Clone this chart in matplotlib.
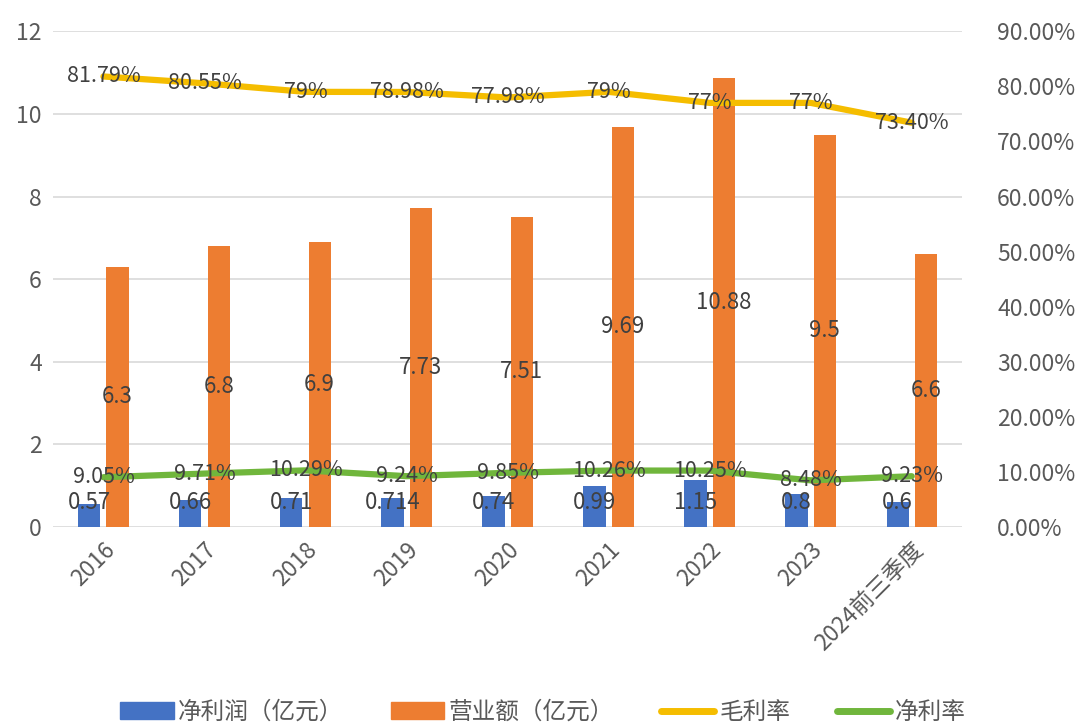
""" Revenue / profit combo chart with margin lines """

import numpy as np
from matplotlib import pyplot as plt
from matplotlib.patches import Patch
from matplotlib.lines import Line2D

plt.rcParams['font.family'] = ['Noto Sans CJK SC', 'DejaVu Sans']

# Data
years = ['2016', '2017', '2018', '2019', '2020', '2021', '2022', '2023', '2024前三季度']
net_profit = [0.57, 0.66, 0.71, 0.714, 0.74, 0.99, 1.15, 0.8, 0.6]
revenue = [6.3, 6.8, 6.9, 7.73, 7.51, 9.69, 10.88, 9.5, 6.6]
gross_margin = [81.79, 80.55, 79, 78.98, 77.98, 79, 77, 77, 73.40]
gross_labels = ['81.79%', '80.55%', '79%', '78.98%', '77.98%', '79%', '77%', '77%', '73.40%']
net_margin = [9.05, 9.71, 10.29, 9.24, 9.85, 10.26, 10.25, 8.48, 9.23]
net_labels = ['9.05%', '9.71%', '10.29%', '9.24%', '9.85%', '10.26%', '10.25%', '8.48%', '9.23%']

# Colours
c_blue = '#4472C4'
c_orange = '#ED7D31'
c_yellow = '#F5BD00'
c_green = '#70B63C'
c_text = '#404040'
c_tick = '#595959'

fig = plt.figure(figsize=(10.8, 7.27), dpi=100)
ax = fig.add_axes([0.049, 0.275, 0.842, 0.682])
ax2 = ax.twinx()

x = np.arange(len(years))
w = 0.22
off = 0.14

ax.bar(x - off, net_profit, w, color=c_blue, zorder=2)
ax.bar(x + off, revenue, w, color=c_orange, zorder=2)

# Bar labels
for xi, v in zip(x, net_profit):
    ax.text(xi - off, max(v / 2, 0.6), f'{v:g}', ha='center', va='center',
            fontsize=16, color=c_text, zorder=5)
for xi, v in zip(x, revenue):
    ax.text(xi + off, v / 2, f'{v:g}', ha='center', va='center',
            fontsize=16, color=c_text, zorder=5)

ax.set_ylim(0, 12)
ax.set_yticks(range(0, 13, 2))
ax.set_xlim(-0.5, len(years) - 0.5)
ax.grid(axis='y', color='#D9D9D9', linewidth=1.2, zorder=0)
ax.set_axisbelow(True)

# Lines on the right axis
ax2.plot(x, gross_margin, color=c_yellow, linewidth=4.5, solid_capstyle='round', zorder=3)
ax2.plot(x, net_margin, color=c_green, linewidth=4.5, solid_capstyle='round', zorder=3)
for xi, v, s in zip(x, gross_margin, gross_labels):
    ax2.text(xi, v, s, ha='center', va='center', fontsize=15.5, color=c_text, zorder=5)
for xi, v, s in zip(x, net_margin, net_labels):
    ax2.text(xi, v, s, ha='center', va='center', fontsize=15.5, color=c_text, zorder=5)
ax2.set_ylim(0, 90)
ax2.set_yticks(range(0, 91, 10))
ax2.set_yticklabels([f'{t:.2f}%' for t in range(0, 91, 10)])

for a in (ax, ax2):
    for sp in a.spines.values():
        sp.set_visible(False)
    a.tick_params(length=0, labelsize=16.5, labelcolor=c_tick)
ax.tick_params(axis='y', pad=8)
ax2.tick_params(axis='y', pad=25)

ax.set_xticks(x)
ax.set_xticklabels(years, rotation=45, ha='right', rotation_mode='anchor')
ax.tick_params(axis='x', pad=8)

# Legend
handles = [Patch(color=c_blue), Patch(color=c_orange),
           Line2D([], [], color=c_yellow, linewidth=5, solid_capstyle='round'),
           Line2D([], [], color=c_green, linewidth=5, solid_capstyle='round')]
labels = ['净利润（亿元）', '营业额（亿元）', '毛利率', '净利率']
fig.legend(handles, labels, loc='center', bbox_to_anchor=(0.503, 0.02), ncol=4,
           frameon=False, fontsize=17, labelcolor=c_tick, handlelength=2.25,
           handleheight=0.7, handletextpad=0.2, columnspacing=2.0)

fig.savefig('out.png', dpi=100)
